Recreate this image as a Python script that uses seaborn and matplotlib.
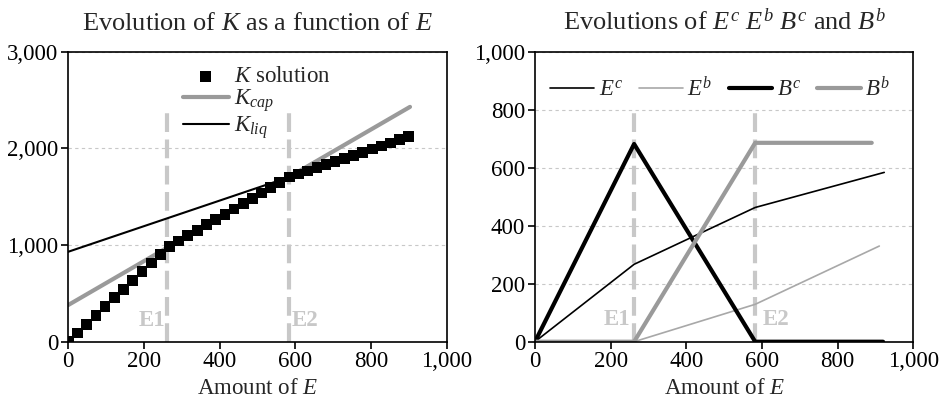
import numpy as np
import pandas as pd
import seaborn as sns
import matplotlib.pyplot as plt
from matplotlib.ticker import FuncFormatter

# threshold values of E
E1 = 262
E2 = 582

# left panel: K solution points and the two bounds
k_e = [0, 24, 49, 73, 97, 122, 146, 170, 195, 219, 243, 268, 292, 316, 341, 365,
       389, 414, 438, 462, 486, 511, 535, 559, 584, 608, 632, 657, 681, 705, 730,
       754, 778, 803, 827, 851, 876, 900]
k_sol = [0, 89, 182, 272, 361, 454, 543, 632, 725, 815, 904, 988, 1043, 1097, 1154,
         1209, 1263, 1320, 1374, 1429, 1483, 1540, 1594, 1649, 1704, 1735, 1767,
         1800, 1832, 1864, 1897, 1929, 1960, 1993, 2025, 2057, 2090, 2122]
kcap_e = [0, 903]
kcap = [380, 2430]
kliq_e = [0, 900]
kliq = [931, 2122]

# right panel series
ec_e = [0, 262, 582, 923]
ec = [0, 267, 463, 584]
eb_e = [0, 262, 582, 910]
eb = [0, 0, 129, 330]
bc_e = [0, 262, 582, 920]
bc = [0, 682, 0, 0]
bb_e = [0, 262, 582, 890]
bb = [0, 0, 686, 686]

sns.set_theme(style='ticks')
plt.rcParams['font.family'] = ['Liberation Serif', 'DejaVu Serif']
plt.rcParams['mathtext.fontset'] = 'custom'
plt.rcParams['mathtext.rm'] = 'Liberation Serif'
plt.rcParams['mathtext.it'] = 'Liberation Serif:italic'
plt.rcParams['mathtext.bf'] = 'Liberation Serif:bold'

fs = 16.5
gray = '#9a9a9a'
vgray = '#c8c8c8'
vdash = (0, (4.5, 1.8))

fig = plt.figure(figsize=(9.46, 4.13), dpi=100)
ax1 = fig.add_axes([0.0722, 0.1726, 0.400, 0.702])
ax2 = fig.add_axes([0.5655, 0.1726, 0.400, 0.702])

def style_axis(ax, ymax, ystep):
    ax.set_xlim(0, 1000)
    ax.set_ylim(0, ymax)
    ax.set_xticks(np.arange(0, 1001, 200))
    ax.set_yticks(np.arange(0, ymax + 1, ystep))
    fmt = FuncFormatter(lambda v, p: '{:,.0f}'.format(v))
    ax.xaxis.set_major_formatter(fmt)
    ax.yaxis.set_major_formatter(fmt)
    ax.tick_params(axis='both', direction='out', length=5, width=1.2,
                   labelsize=fs, colors='black', pad=2)
    for s in ax.spines.values():
        s.set_color('black')
        s.set_linewidth(1.2)
    ax.yaxis.grid(True, linestyle=(0, (3, 3)), color=vgray, linewidth=0.8)
    ax.set_axisbelow(True)
    ax.set_xlabel('Amount of $E$', fontsize=fs, labelpad=4)
    ax.set_ylabel('')

# left panel
for e in [E1, E2]:
    ax1.vlines(e, 0, 2420, colors=vgray, linewidth=3, linestyles=vdash, zorder=1)
sns.lineplot(x=kcap_e, y=kcap, ax=ax1, color=gray, linewidth=3,
             estimator=None, sort=False, label='$K_{cap}$', zorder=2)
sns.lineplot(x=kliq_e, y=kliq, ax=ax1, color='black', linewidth=1.5,
             estimator=None, sort=False, label='$K_{liq}$', zorder=2)
sns.scatterplot(x=k_e, y=k_sol, ax=ax1, marker='s', s=60, color='black',
                edgecolor='none', label='$K$ solution', zorder=3)
style_axis(ax1, 3000, 1000)
ax1.set_title('Evolution of $K$ as a function of $E$', fontsize=19, pad=16)
ax1.text(E1 - 5, 220, 'E1', color=vgray, fontsize=fs, fontweight='bold',
         ha='right', va='center')
ax1.text(E2 + 8, 220, 'E2', color=vgray, fontsize=fs, fontweight='bold',
         ha='left', va='center')
h, l = ax1.get_legend_handles_labels()
order = [2, 0, 1]
ax1.legend([h[i] for i in order], [l[i] for i in order], loc='upper left',
           bbox_to_anchor=(0.26, 1.005), frameon=False, fontsize=fs,
           handlelength=2.0, handletextpad=0.25, labelspacing=0.0,
           borderpad=0.2)

# right panel
for e in [E1, E2]:
    ax2.vlines(e, 0, 795, colors=vgray, linewidth=3, linestyles=vdash, zorder=1)
sns.lineplot(x=ec_e, y=ec, ax=ax2, color='black', linewidth=1.2,
             estimator=None, sort=False, label='$E^c$', zorder=2)
sns.lineplot(x=eb_e, y=eb, ax=ax2, color='#a8a8a8', linewidth=1.2,
             estimator=None, sort=False, label='$E^b$', zorder=2)
sns.lineplot(x=bc_e, y=bc, ax=ax2, color='black', linewidth=3,
             estimator=None, sort=False, label='$B^c$', zorder=2)
sns.lineplot(x=bb_e, y=bb, ax=ax2, color=gray, linewidth=3,
             estimator=None, sort=False, label='$B^b$', zorder=2)
style_axis(ax2, 1000, 200)
ax2.set_title('Evolutions of $E^c$ $E^b$ $B^c$ and $B^b$', fontsize=19, pad=16)
ax2.text(E1 - 10, 75, 'E1', color=vgray, fontsize=fs, fontweight='bold',
         ha='right', va='center')
ax2.text(E2 + 20, 75, 'E2', color=vgray, fontsize=fs, fontweight='bold',
         ha='left', va='center')
ax2.legend(loc='upper center', bbox_to_anchor=(0.49, 0.97), ncol=4,
           frameon=False, fontsize=fs, handlelength=1.9, handletextpad=0.2,
           columnspacing=0.7, borderpad=0.2)

fig.savefig('out.png', dpi=100)
